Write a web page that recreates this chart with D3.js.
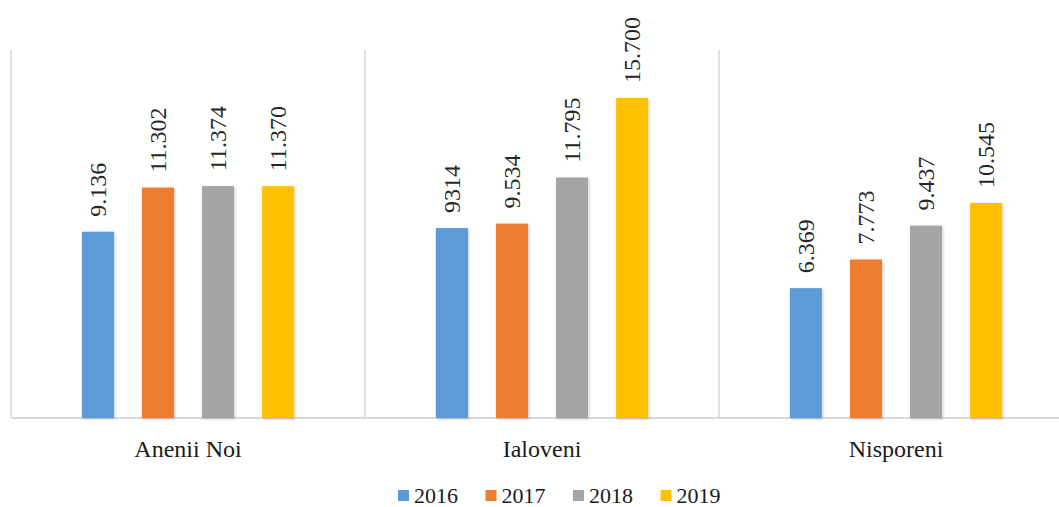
<!DOCTYPE html>
<html>
<head>
<meta charset="utf-8">
<script src="https://cdn.jsdelivr.net/npm/d3@7"></script>
<style>
  html, body { margin: 0; padding: 0; background: #fff; }
  svg { display: block; }
  svg text { font-family: "Liberation Serif", "Times New Roman", "DejaVu Serif", serif; }
</style>
</head>
<body>
<svg id="chart" width="1059" height="507"></svg>
<script>
const categories = ["Anenii Noi", "Ialoveni", "Nisporeni"];
const years = ["2016", "2017", "2018", "2019"];
const values2016 = [9.136, 9.314, 6.369];
const values2017 = [11.302, 9.534, 7.773];
const values2018 = [11.374, 11.795, 9.437];
const values2019 = [11.370, 15.700, 10.545];
const labels2016 = ["9.136", "9314", "6.369"];
const labels2017 = ["11.302", "9.534", "7.773"];
const labels2018 = ["11.374", "11.795", "9.437"];
const labels2019 = ["11.370", "15.700", "10.545"];
const colors = ["#5B9BD5", "#ED7D31", "#A5A5A5", "#FFC000"];
const yDomain = [0, 18];

const seriesValues = [values2016, values2017, values2018, values2019];
const seriesLabels = [labels2016, labels2017, labels2018, labels2019];

const svg = d3.select("#chart");
const plotLeft = 11, plotRight = 1073, plotTop = 51, plotBottom = 418;

const x0 = d3.scaleBand().domain(categories).range([plotLeft, plotRight]).paddingInner(0).paddingOuter(0);
const x1 = d3.scaleBand().domain(years).range([0, x0.bandwidth()]).paddingInner(0.467).paddingOuter(1.18);
const y = d3.scaleLinear().domain(yDomain).range([plotBottom, plotTop]);
const color = d3.scaleOrdinal().domain(years).range(colors);

const defs = svg.append("defs");
const f = defs.append("filter").attr("id", "sh").attr("x", "-30%").attr("y", "-10%").attr("width", "160%").attr("height", "120%");
f.append("feDropShadow").attr("dx", 1).attr("dy", 1).attr("stdDeviation", 1.5).attr("flood-color", "#000").attr("flood-opacity", 0.22);

// vertical category separators
const seps = categories.map(c => x0(c));
svg.append("g").selectAll("line").data(seps).join("line")
  .attr("x1", d => d).attr("x2", d => d)
  .attr("y1", plotTop - 1).attr("y2", plotBottom)
  .attr("stroke", "#D9D9D9").attr("stroke-width", 1.5);

// baseline axis
const xAxis = d3.axisBottom(x0).tickSize(0).tickPadding(0);
const axisG = svg.append("g").attr("transform", `translate(0,${plotBottom})`).call(xAxis)
  .attr("font-family", null);
axisG.select(".domain").attr("stroke", "#D9D9D9").attr("stroke-width", 2)
  .attr("d", `M${plotLeft},0H${plotRight}`);
axisG.selectAll(".tick text")
  .attr("font-size", 24)
  .attr("fill", "#1a1a1a")
  .attr("dy", 0)
  .attr("y", 39);

// bars
const groups = svg.append("g").selectAll("g").data(categories).join("g")
  .attr("transform", c => `translate(${x0(c)},0)`);

const rows = (c, ci) => years.map((yr, si) => ({yr, v: seriesValues[si][ci], lab: seriesLabels[si][ci]}));

groups.selectAll("rect").data(rows)
  .join("rect")
  .attr("x", d => x1(d.yr))
  .attr("width", x1.bandwidth())
  .attr("y", d => y(d.v))
  .attr("height", d => y(0) - y(d.v))
  .attr("fill", d => color(d.yr))
  .attr("filter", "url(#sh)");

groups.selectAll("text.lab").data(rows)
  .join("text").attr("class", "lab")
  .attr("transform", d => `translate(${x1(d.yr) + x1.bandwidth() / 2},${y(d.v) - 15}) rotate(-90)`)
  .attr("text-anchor", "start")
  .attr("dy", "0.33em")
  .attr("font-size", 24)
  .attr("fill", "#262626")
  .text(d => d.lab);

// legend
const legend = svg.append("g").selectAll("g").data(years).join("g")
  .attr("transform", (d, i) => `translate(${398 + i * 87.5},490)`);
legend.append("rect").attr("width", 11).attr("height", 11).attr("fill", d => color(d));
legend.append("text").attr("x", 16).attr("y", 12.5).attr("font-size", 22).attr("fill", "#1a1a1a").text(d => d);
</script>
</body>
</html>
